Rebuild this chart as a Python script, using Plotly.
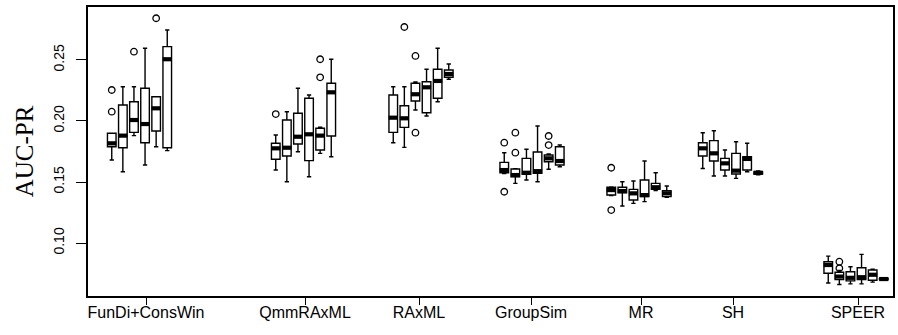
import plotly.graph_objects as go

# ---------------- data ----------------
methods = ["FunDi+ConsWin", "QmmRAxML", "RAxML", "GroupSim", "MR", "SH", "SPEER"]

q1 = [
    [0.1789, 0.1781, 0.1907, 0.1822, 0.1918, 0.1781],
    [0.1686, 0.1713, 0.1811, 0.1675, 0.1762, 0.1877],
    [0.1907, 0.1948, 0.2164, 0.2068, 0.2186, 0.2358],
    [0.1576, 0.1543, 0.1563, 0.1571, 0.1666, 0.1639],
    [0.1393, 0.1412, 0.1352, 0.1380, 0.1440, 0.1380],
    [0.1713, 0.1672, 0.1598, 0.1566, 0.1598, 0.1566],
    [0.0752, 0.0700, 0.0690, 0.0700, 0.0695, 0.0700],
]
median = [
    [0.1817, 0.1880, 0.2008, 0.1975, 0.2104, 0.2506],
    [0.1776, 0.1781, 0.1871, 0.1891, 0.1880, 0.2235],
    [0.2027, 0.2022, 0.2219, 0.2276, 0.2328, 0.2385],
    [0.1598, 0.1557, 0.1576, 0.1589, 0.1694, 0.1672],
    [0.1434, 0.1426, 0.1407, 0.1393, 0.1457, 0.1407],
    [0.1776, 0.1735, 0.1653, 0.1593, 0.1689, 0.1576],
    [0.0820, 0.0725, 0.0715, 0.0720, 0.0740, 0.0705],
]
q3 = [
    [0.1899, 0.2131, 0.2158, 0.2268, 0.2199, 0.2609],
    [0.1817, 0.2008, 0.2063, 0.2186, 0.1940, 0.2309],
    [0.2213, 0.2125, 0.2309, 0.2322, 0.2424, 0.2418],
    [0.1661, 0.1607, 0.1694, 0.1746, 0.1721, 0.1789],
    [0.1457, 0.1457, 0.1440, 0.1516, 0.1489, 0.1429],
    [0.1822, 0.1839, 0.1694, 0.1735, 0.1707, 0.1582],
    [0.0847, 0.0760, 0.0765, 0.0798, 0.0779, 0.0710],
]
lower = [
    [0.1680, 0.1584, 0.1880, 0.1639, 0.1789, 0.1757],
    [0.1598, 0.1502, 0.1748, 0.1543, 0.1735, 0.1707],
    [0.1822, 0.1784, 0.2090, 0.2041, 0.2158, 0.2342],
    [0.1570, 0.1489, 0.1516, 0.1502, 0.1604, 0.1625],
    [0.1390, 0.1303, 0.1325, 0.1339, 0.1430, 0.1375],
    [0.1611, 0.1549, 0.1549, 0.1530, 0.1584, 0.1560],
    [0.0672, 0.0660, 0.0665, 0.0665, 0.0680, 0.0698],
]
upper = [
    [0.1899, 0.2281, 0.2281, 0.2596, 0.2199, 0.2746],
    [0.1885, 0.2076, 0.2268, 0.2213, 0.1950, 0.2506],
    [0.2281, 0.2281, 0.2320, 0.2424, 0.2596, 0.2467],
    [0.1740, 0.1610, 0.1768, 0.1959, 0.1730, 0.1803],
    [0.1460, 0.1502, 0.1508, 0.1672, 0.1576, 0.1467],
    [0.1904, 0.1920, 0.1762, 0.1830, 0.1817, 0.1590],
    [0.0893, 0.0775, 0.0806, 0.0907, 0.0785, 0.0715],
]
outliers = [
    [[0.2076, 0.2254], [], [0.2568], [], [0.2842], []],
    [[0.2057], [], [], [], [0.2506, 0.2358], []],
    [[], [0.2770], [0.2533, 0.1904], [], [], []],
    [[0.1822, 0.1420], [0.1740, 0.1904], [], [], [0.1877, 0.1803], []],
    [[0.1617, 0.1270], [], [], [], [], []],
    [[], [], [], [], [], []],
    [[], [0.0847, 0.0793], [], [], [], []],
]
y_ticks = [0.10, 0.15, 0.20, 0.25]
y_tick_labels = ["0.10", "0.15", "0.20", "0.25"]

# ---------------- layout helpers ----------------
group_centers = [139.5, 303.5, 421.0, 532.0, 639.0, 730.5, 856.0]
tick_positions = [146, 305, 419, 531, 641, 733, 858]
spacing = 11.1
box_w = 8.6

xs, Q1, MED, Q3, LO, HI = [], [], [], [], [], []
ox, oy = [], []
mx, my = [], []
for g, c in enumerate(group_centers):
    for j in range(6):
        x = c + (j - 2.5) * spacing
        xs.append(x)
        Q1.append(q1[g][j]); MED.append(median[g][j]); Q3.append(q3[g][j])
        LO.append(lower[g][j]); HI.append(upper[g][j])
        for v in outliers[g][j]:
            ox.append(x); oy.append(v)
        mx += [x - box_w / 2 - 0.3, x + box_w / 2 + 0.3, None]
        my += [median[g][j], median[g][j], None]

fig = go.Figure()
fig.add_trace(go.Box(
    x=xs, q1=Q1, median=MED, q3=Q3, lowerfence=LO, upperfence=HI,
    width=box_w, whiskerwidth=0.5, boxpoints=False,
    fillcolor="white", line=dict(color="black", width=1.4),
    showlegend=False, hoverinfo="skip",
))
fig.add_trace(go.Scatter(
    x=mx, y=my, mode="lines", line=dict(color="black", width=4.2),
    showlegend=False, hoverinfo="skip",
))
fig.add_trace(go.Scatter(
    x=ox, y=oy, mode="markers",
    marker=dict(symbol="circle-open", size=6.5, color="black", line=dict(width=1.3)),
    showlegend=False, hoverinfo="skip",
))

fig.update_layout(
    width=898, height=335,
    margin=dict(l=88, r=5, t=7, b=39),
    paper_bgcolor="white", plot_bgcolor="white",
    font=dict(family="Liberation Sans, Arial, sans-serif", color="black"),
    xaxis=dict(
        range=[88, 893], tickmode="array", tickvals=tick_positions, ticktext=methods,
        ticks="outside", ticklen=7, tickwidth=1.3, tickcolor="black",
        showline=True, linecolor="black", linewidth=1.5, mirror=True,
        showgrid=False, zeroline=False, tickfont=dict(size=16),
        automargin=False, ticklabelstandoff=-6,
    ),
    yaxis=dict(
        range=[0.0566, 0.2934], tickmode="array", tickvals=y_ticks, ticktext=y_tick_labels,
        tickangle=-90, ticks="outside", ticklen=10, tickwidth=1.3, tickcolor="black",
        showline=True, linecolor="black", linewidth=1.5, mirror=True,
        showgrid=False, zeroline=False, tickfont=dict(size=14),
        automargin=False, ticklabelstandoff=7,
        title=dict(text="AUC-PR", font=dict(family="Liberation Serif, Times New Roman, serif", size=25), standoff=10),
    ),
)

fig.write_html("out.html", config={"displayModeBar": False},
               post_script="document.body.style.margin='0';document.body.style.overflow='hidden';")
